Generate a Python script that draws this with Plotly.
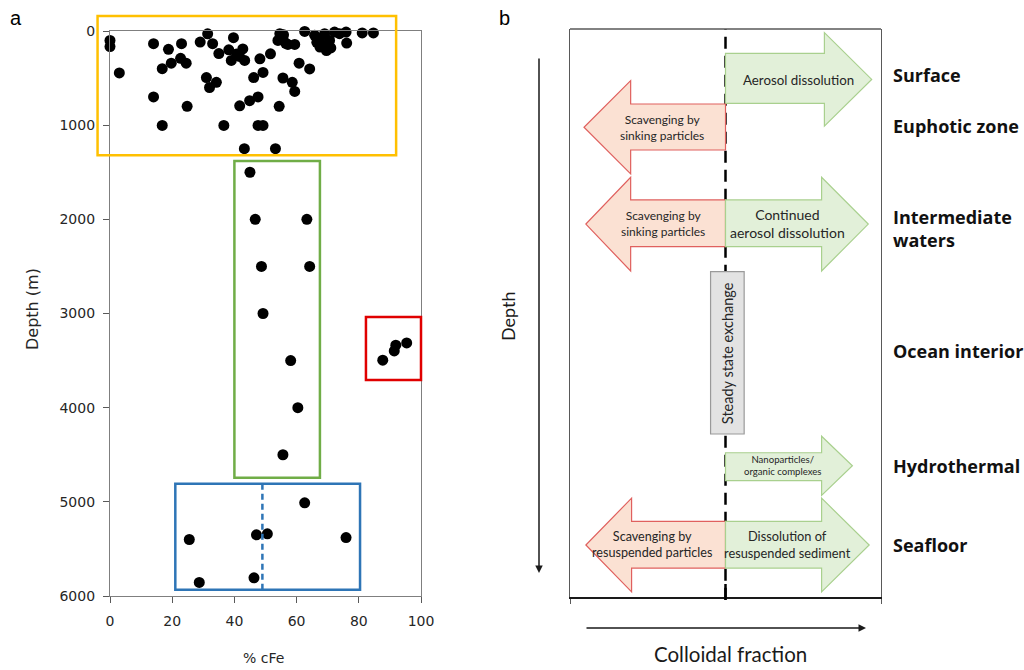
import plotly.graph_objects as go

W, H = 1024, 670

# ---------------- Panel a data ----------------
cfe_upper = [0, 0, 3, 14, 18.8, 23, 16.8, 19.7, 22.7, 24.5, 29, 31.4, 33, 35, 39.7, 38.2, 39,
             40.7, 42.7, 43.3, 41.6, 48.2, 31, 32, 34.2, 14, 24.8, 16.8, 36.6, 41.7, 44.9, 47.6,
             46.2, 49.2, 43.2, 47.6, 49.2, 51.6, 53.2, 54.4, 54.6, 55.6, 54, 55.8, 56.5, 57.2,
             59.4, 55.6, 58.6, 59.4, 60.8, 64.2, 62.6, 65.8, 67.4, 69, 68.5, 69.6, 70.6, 66.5,
             67.5, 71, 72.2, 73.8, 75.9, 76.1, 81.1, 84.7]
depth_upper = [100, 165, 445, 135, 195, 135, 400, 342, 290, 342, 118, 30, 135, 240, 71, 200, 312,
               243, 190, 312, 270, 296, 495, 600, 545, 700, 800, 1003, 1003, 795, 740, 700,
               495, 440, 1250, 1003, 1003, 242, 1250, 800, 29, 82, 100, 40, 130, 143,
               143, 499, 545, 642, 342, 403, 4, 46, 82, 29, 153, 207, 100, 120,
               170, 180, 11, 29, 11, 128, 21, 21]
cfe_mid = [45, 46.7, 63.3, 48.7, 64.2, 49.2, 58.1, 60.4, 55.6]
depth_mid = [1500, 2000, 2000, 2500, 2500, 3000, 3500, 4000, 4500]
cfe_hydro = [87.7, 91.4, 91.9, 95.4]
depth_hydro = [3496, 3397, 3337, 3312]
cfe_deep = [62.6, 25.5, 47.1, 50.6, 75.9, 28.7, 46.3]
depth_deep = [5010, 5400, 5350, 5340, 5380, 5856, 5807]

x_ticks = [0, 20, 40, 60, 80, 100]
y_ticks = [0, 1000, 2000, 3000, 4000, 5000, 6000]

# Region boxes (data units: x0, x1, depth0, depth1, colour)
boxes = [
    (-4, 92, -160, 1320, "#FFC000"),
    (40, 67.5, 1380, 4745, "#70AD47"),
    (82.3, 100, 3036, 3705, "#E00000"),
    (21, 80.4, 4809, 5934, "#2E75B6"),
]
deep_median = 49

# ---------------- Panel b schematic (units 0-100) ----------------
mid = 50
RED_F, RED_L = "#FBE1D3", "#E0605E"
GRN_F, GRN_L = "#E2F0D9", "#A9D08E"
# (direction, shaft_top, shaft_bottom, head_top, head_bottom, head_base_x, tip_x, fill, line)
arrows = [
    ("r", 4.3, 13.1, 0.65, 17.1, 81.8, 97.0, GRN_F, GRN_L),
    ("l", 13.2, 21.3, 9.1, 25.5, 19.5, 4.5, RED_F, RED_L),
    ("l", 30.1, 38.3, 26.1, 42.6, 19.5, 5.1, RED_F, RED_L),
    ("r", 30.1, 38.3, 26.1, 42.6, 80.9, 95.9, GRN_F, GRN_L),
    ("r", 74.6, 79.5, 71.7, 82.1, 80.9, 90.8, GRN_F, GRN_L),
    ("l", 86.7, 94.9, 82.6, 99.1, 19.8, 5.1, RED_F, RED_L),
    ("r", 86.7, 94.9, 82.6, 99.1, 80.9, 96.2, GRN_F, GRN_L),
]
arrow_texts = [
    ("Aerosol dissolution", 73.5, 8.9, 13.3),
    ("Scavenging by<br>sinking particles", 29.5, 17.3, 12),
    ("Scavenging by<br>sinking particles", 30, 34.3, 12),
    ("Continued<br>aerosol dissolution", 70, 34.3, 14),
    ("Nanoparticles/<br>organic complexes", 68.5, 76.9, 9.6),
    ("Scavenging by<br>resuspended particles", 26.5, 90.8, 12.6),
    ("Dissolution of<br>resuspended sediment", 70, 90.8, 12.8),
]
zones = [("Surface", 8.1), ("Euphotic zone", 17.1), ("Intermediate<br>waters", 35.2),
         ("Ocean interior", 56.7), ("Hydrothermal", 76.9), ("Seafloor", 90.8)]
steady_box = (45.2, 56.0, 42.7, 71.3)

# ---------------- layout geometry ----------------
ax_dom = [110 / W, 421 / W]
ay_dom = [1 - 596 / H, 1 - 31 / H]
bx_dom = [570 / W, 881 / W]
by_dom = [1 - 597 / H, 1 - 29 / H]


def ax_paper(v):
    return ax_dom[0] + v / 100 * (ax_dom[1] - ax_dom[0])


def ay_paper(d):
    return ay_dom[1] - d / 6000 * (ay_dom[1] - ay_dom[0])


fig = go.Figure()
marker = dict(color="black", size=11, line=dict(width=0))
for xs, ys in [(cfe_upper, depth_upper), (cfe_mid, depth_mid),
               (cfe_hydro, depth_hydro), (cfe_deep, depth_deep)]:
    fig.add_trace(go.Scatter(x=xs, y=ys, mode="markers", marker=marker,
                             xaxis="x", yaxis="y", showlegend=False, cliponaxis=False))

shapes = []
for x0, x1, d0, d1, c in boxes:
    shapes.append(dict(type="rect", xref="paper", yref="paper",
                       x0=ax_paper(x0), x1=ax_paper(x1), y0=ay_paper(d0), y1=ay_paper(d1),
                       line=dict(color=c, width=2.5), fillcolor="rgba(0,0,0,0)", layer="above"))
shapes.append(dict(type="line", xref="paper", yref="paper",
                   x0=ax_paper(deep_median), x1=ax_paper(deep_median),
                   y0=ay_paper(boxes[3][2]), y1=ay_paper(boxes[3][3]),
                   line=dict(color="#2E75B6", width=2.5, dash="6px,4px")))

# panel b arrows
for d, st, sb, ht, hb, base, tip, fc, lc in arrows:
    m = (ht + hb) / 2
    path = (f"M {mid},{st} L {base},{st} L {base},{ht} L {tip},{m} "
            f"L {base},{hb} L {base},{sb} L {mid},{sb} Z")
    shapes.append(dict(type="path", xref="x2", yref="y2", path=path,
                       fillcolor=fc, line=dict(color=lc, width=1.2), layer="below"))

# steady state box
sx0, sx1, sy0, sy1 = steady_box
shapes.append(dict(type="rect", xref="x2", yref="y2", x0=sx0, x1=sx1, y0=sy0, y1=sy1,
                   fillcolor="#E3E3E3", line=dict(color="#9A9A9A", width=1.2), layer="above"))
# dashed centre line
shapes.append(dict(type="line", xref="x2", yref="y2 domain", x0=mid, x1=mid, y0=-0.005, y1=1,
                   line=dict(color="black", width=2.5, dash="12px,7px"), layer="below"))
shapes.append(dict(type="line", xref="x2", yref="paper", x0=mid, x1=mid,
                   y0=1 - 600 / H, y1=1 - 584 / H, line=dict(color="black", width=2.5)))
# top frame line of panel b
shapes.append(dict(type="line", xref="x2 domain", yref="y2 domain", x0=0, x1=1, y0=1, y1=1,
                   line=dict(color="#595959", width=1.3)))
fig.update_layout(shapes=shapes)

ann = []
for t, x, y, s in arrow_texts:
    ann.append(dict(text=t, x=x, y=y, xref="x2", yref="y2", showarrow=False,
                    xanchor="center", yanchor="middle",
                    font=dict(family="Lato", size=s, color="#262626")))
ann.append(dict(text="Steady state exchange", x=(sx0 + sx1) / 2, y=(sy0 + sy1) / 2,
                xref="x2", yref="y2", showarrow=False, textangle=-90,
                xanchor="center", yanchor="middle",
                font=dict(family="Lato", size=14.5, color="#262626")))
for t, y in zones:
    ann.append(dict(text=f"<b>{t}</b>", x=891 / W, y=y, xref="paper", yref="y2",
                    xanchor="left", yanchor="middle", align="left", showarrow=False,
                    font=dict(family="Open Sans", size=18, color="#111111")))
# Depth arrow
ann.append(dict(x=539 / W, y=1 - 573 / H, xref="paper", yref="paper", ax=0, ay=-516,
                axref="pixel", ayref="pixel", showarrow=True, arrowhead=2, arrowsize=1,
                arrowwidth=1.5, arrowcolor="#1a1a1a", text=""))
ann.append(dict(text="Depth", x=508 / W, y=1 - 316 / H, xref="paper", yref="paper",
                xanchor="center", yanchor="middle",
                showarrow=False, textangle=-90, font=dict(family="Lato", size=18, color="#1a1a1a")))
# Colloidal fraction arrow
ann.append(dict(x=866 / W, y=1 - 628 / H, xref="paper", yref="paper", ax=-281, ay=0,
                axref="pixel", ayref="pixel", showarrow=True, arrowhead=2, arrowsize=1,
                arrowwidth=1.5, arrowcolor="#1a1a1a", text=""))
ann.append(dict(text="Colloidal fraction", x=730 / W, y=1 - 654 / H, xref="paper", yref="paper",
                xanchor="center", yanchor="middle",
                showarrow=False, font=dict(family="Lato", size=20.5, color="#1a1a1a")))
# Panel a titles
ann.append(dict(text="% cFe", x=263 / W, y=1 - 658 / H, xref="paper", yref="paper",
                xanchor="center", yanchor="middle",
                showarrow=False, font=dict(family="DejaVu Sans", size=14, color="#262626")))
ann.append(dict(text="Depth (m)", x=33 / W, y=1 - 309 / H, xref="paper", yref="paper",
                xanchor="center", yanchor="middle", showarrow=False, textangle=-90,
                font=dict(family="DejaVu Sans", size=16, color="#262626")))
# Panel labels
ann.append(dict(text="a", x=16 / W, y=1 - 18 / H, xref="paper", yref="paper", showarrow=False,
                xanchor="center", yanchor="middle",
                font=dict(family="Liberation Sans", size=20, color="black")))
ann.append(dict(text="b", x=504 / W, y=1 - 18 / H, xref="paper", yref="paper", showarrow=False,
                xanchor="center", yanchor="middle",
                font=dict(family="Liberation Sans", size=20, color="black")))

tickfont = dict(family="DejaVu Sans", size=14, color="#262626")
fig.update_layout(
    width=W, height=H, margin=dict(l=0, r=0, t=0, b=0, pad=0), autosize=False,
    paper_bgcolor="white", plot_bgcolor="white", showlegend=False,
    annotations=ann,
    xaxis=dict(domain=ax_dom, range=[0, 100], tickvals=x_ticks, ticks="outside", ticklen=6,
               tickcolor="#595959", showline=True, linecolor="#7f7f7f", linewidth=1.3,
               mirror=True, showgrid=False, zeroline=False, tickfont=tickfont, anchor="y",
               automargin=False, ticklabelstandoff=6),
    yaxis=dict(domain=ay_dom, range=[6000, 0], tickvals=y_ticks, ticks="outside", ticklen=6,
               tickcolor="#595959", showline=True, linecolor="#7f7f7f", linewidth=1.3,
               mirror=True, showgrid=False, zeroline=False, tickfont=tickfont, anchor="x",
               automargin=False, ticklabelstandoff=5),
    xaxis2=dict(domain=bx_dom, range=[0, 100], tickvals=[0, 100], ticks="outside", ticklen=5,
                tickcolor="#595959", showticklabels=False, showline=True, linecolor="#1a1a1a",
                linewidth=1.5, showgrid=False, zeroline=False, anchor="y2", automargin=False),
    yaxis2=dict(domain=by_dom, range=[100, 0], showticklabels=False, ticks="", showline=True,
                linecolor="#595959", linewidth=1.3, mirror=True, showgrid=False,
                zeroline=False, anchor="x2", automargin=False),
)

fig.write_html("out.html", config={"displayModeBar": False},
               post_script="document.body.style.margin='0';document.body.style.overflow='hidden';")
